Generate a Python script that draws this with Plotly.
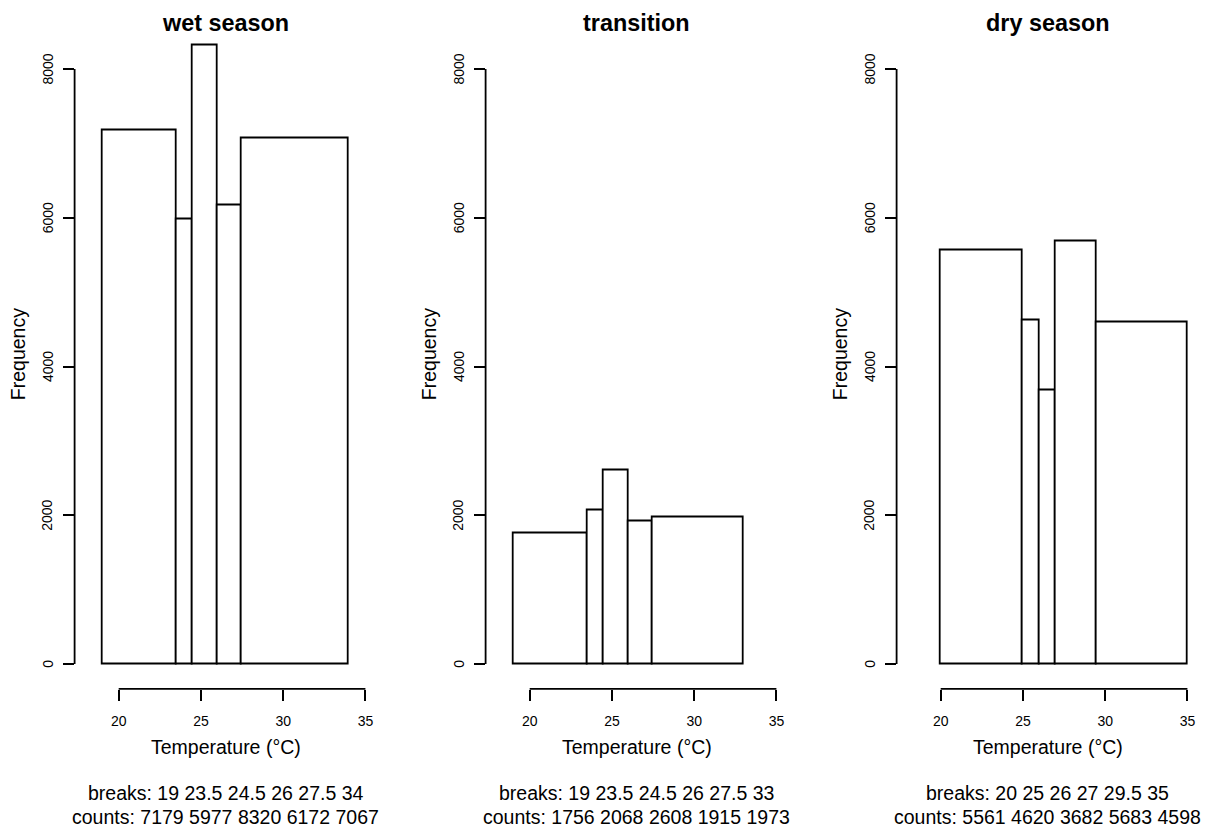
import numpy as np
import plotly.graph_objects as go

# Histogram data per season: bin breaks and counts
panel_titles = ["wet season", "transition", "dry season"]
wet_breaks = [19, 23.5, 24.5, 26, 27.5, 34]
wet_counts = [7179, 5977, 8320, 6172, 7067]
transition_breaks = [19, 23.5, 24.5, 26, 27.5, 33]
transition_counts = [1756, 2068, 2608, 1915, 1973]
dry_breaks = [20, 25, 26, 27, 29.5, 35]
dry_counts = [5561, 4620, 3682, 5683, 4598]

x_ticks = [20, 25, 30, 35]
y_ticks = [0, 2000, 4000, 6000, 8000]
x_lim = [18, 35]
y_lim = [0, 8320]

x_label = "Temperature (°C)"
y_label = "Frequency"

W, H = 1209, 830
FONT = "Liberation Sans, Arial, Helvetica, sans-serif"
LW = 1.8


def extend(lim, frac=0.04):
    d = (lim[1] - lim[0]) * frac
    return [lim[0] - d, lim[1] + d]


x_range = extend(x_lim)
y_range = extend(y_lim)

# plot regions in pixels
panel_left = [74.6, 485.6, 896.6]
panel_width = 302.0
plot_top, plot_bottom = 20.4, 688.8
y_domain = [(H - plot_bottom) / H, (H - plot_top) / H]

panels = [
    (wet_breaks, wet_counts),
    (transition_breaks, transition_counts),
    (dry_breaks, dry_counts),
]

fig = go.Figure()
shapes = []
annotations = []
layout_axes = {}

for i, (breaks, counts) in enumerate(panels):
    n = i + 1
    xa = "x" if n == 1 else f"x{n}"
    ya = "y" if n == 1 else f"y{n}"
    b = np.array(breaks, dtype=float)
    centers = (b[:-1] + b[1:]) / 2
    widths = np.diff(b)
    fig.add_trace(go.Bar(
        x=centers, y=counts, width=widths, base=0,
        marker=dict(color="white", line=dict(color="black", width=LW)),
        xaxis=xa, yaxis=ya, hoverinfo="x+y",
    ))

    x0 = panel_left[i] / W
    x1 = (panel_left[i] + panel_width) / W
    layout_axes[f"xaxis{n}"] = dict(
        domain=[x0, x1], range=x_range, anchor=ya,
        tickmode="array", tickvals=x_ticks,
        ticktext=[f"{t:g}" for t in x_ticks],
        ticks="outside", ticklen=11, tickwidth=LW, tickcolor="black",
        showline=False, showgrid=False, zeroline=False,
        tickfont=dict(family=FONT, size=14, color="black"),
        ticklabelstandoff=8,
    )
    layout_axes[f"yaxis{n}"] = dict(
        domain=y_domain, range=y_range, anchor=xa,
        tickmode="array", tickvals=y_ticks,
        ticks="outside", ticklen=11, tickwidth=LW, tickcolor="black",
        showticklabels=False,
        showline=False, showgrid=False, zeroline=False,
    )

    # vertical tick labels placed beside the y ticks
    for t in y_ticks:
        annotations.append(dict(
            text=f"{t:g}", x=(panel_left[i] - 27) / W, y=t,
            xref="paper", yref=ya, xanchor="center", yanchor="middle",
            textangle=-90, showarrow=False,
            font=dict(family=FONT, size=14, color="black")))

    # axis lines spanning first to last tick
    shapes.append(dict(type="line", xref=xa, yref=f"{ya} domain",
                       x0=x_ticks[0], x1=x_ticks[-1], y0=0, y1=0,
                       line=dict(color="black", width=LW)))
    shapes.append(dict(type="line", xref=f"{xa} domain", yref=ya,
                       x0=0, x1=0, y0=y_ticks[0], y1=y_ticks[-1],
                       line=dict(color="black", width=LW)))

    xc = (x0 + x1) / 2
    annotations.append(dict(
        text=f"<b>{panel_titles[i]}</b>", x=xc, y=1 - 23 / H,
        xref="paper", yref="paper", xanchor="center", yanchor="middle",
        showarrow=False, font=dict(family=FONT, size=23.4, color="black")))
    annotations.append(dict(
        text=x_label, x=xc, y=1 - 747 / H,
        xref="paper", yref="paper", xanchor="center", yanchor="middle",
        showarrow=False, font=dict(family=FONT, size=19.5, color="black")))
    annotations.append(dict(
        text=y_label, x=(panel_left[i] - 57) / W,
        y=(y_domain[0] + y_domain[1]) / 2,
        xref="paper", yref="paper", xanchor="center", yanchor="middle",
        textangle=-90,
        showarrow=False, font=dict(family=FONT, size=19.5, color="black")))
    annotations.append(dict(
        text="breaks: " + " ".join(f"{v:g}" for v in breaks),
        x=xc, y=1 - 793 / H,
        xref="paper", yref="paper", xanchor="center", yanchor="middle",
        showarrow=False, font=dict(family=FONT, size=19.5, color="black")))
    annotations.append(dict(
        text="counts: " + " ".join(f"{v:g}" for v in counts),
        x=xc, y=1 - 817 / H,
        xref="paper", yref="paper", xanchor="center", yanchor="middle",
        showarrow=False, font=dict(family=FONT, size=19.5, color="black")))

fig.update_layout(
    width=W, height=H,
    margin=dict(l=0, r=0, t=0, b=0),
    paper_bgcolor="white", plot_bgcolor="white",
    showlegend=False, bargap=0,
    shapes=shapes, annotations=annotations,
    font=dict(family=FONT, color="black"),
    **layout_axes,
)

fig.write_html("out.html")
